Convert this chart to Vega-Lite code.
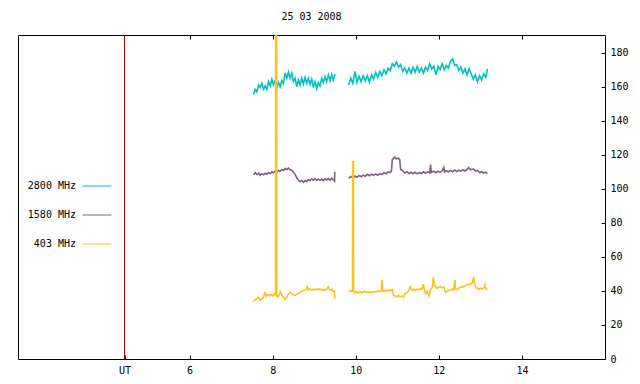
{
  "$schema": "https://vega.github.io/schema/vega-lite/v6.json",
  "width": 587,
  "height": 324,
  "autosize": {"type": "none"},
  "padding": {"left": 18, "top": 35, "right": 35, "bottom": 25},
  "background": "white",
  "config": {
    "view": {"stroke": "#000000", "strokeWidth": 1},
    "font": "DejaVu Sans Mono",
    "axis": {"labelFont": "DejaVu Sans Mono", "labelFontSize": 10, "labelColor": "#000000", "tickColor": "#000000", "grid": false, "domain": false, "title": null}
  },
  "title": {"text": "25 03 2008", "font": "DejaVu Sans Mono", "fontSize": 10, "fontWeight": "normal", "color": "#000000", "anchor": "middle", "offset": 13},
  "datasets": {
    "ut": [{"t": 4.434}],
    "radio": [
      {"s":"2800","g":1,"t":7.54,"v":155.5},{"s":"2800","g":1,"t":7.58,"v":158.5},{"s":"2800","g":1,"t":7.62,"v":157},{"s":"2800","g":1,"t":7.66,"v":161},{"s":"2800","g":1,"t":7.70,"v":159.5},{"s":"2800","g":1,"t":7.74,"v":162},{"s":"2800","g":1,"t":7.78,"v":158.5},{"s":"2800","g":1,"t":7.82,"v":160.5},{"s":"2800","g":1,"t":7.86,"v":158.5},{"s":"2800","g":1,"t":7.90,"v":163},{"s":"2800","g":1,"t":7.94,"v":160.5},{"s":"2800","g":1,"t":7.98,"v":164.5},{"s":"2800","g":1,"t":8.02,"v":161},{"s":"2800","g":1,"t":8.06,"v":163.5},{"s":"2800","g":1,"t":8.10,"v":159.5},{"s":"2800","g":1,"t":8.14,"v":162.5},{"s":"2800","g":1,"t":8.18,"v":160},{"s":"2800","g":1,"t":8.22,"v":163.5},{"s":"2800","g":1,"t":8.26,"v":162},{"s":"2800","g":1,"t":8.30,"v":168},{"s":"2800","g":1,"t":8.34,"v":165},{"s":"2800","g":1,"t":8.38,"v":168.5},{"s":"2800","g":1,"t":8.42,"v":165},{"s":"2800","g":1,"t":8.46,"v":168},{"s":"2800","g":1,"t":8.50,"v":163},{"s":"2800","g":1,"t":8.54,"v":165},{"s":"2800","g":1,"t":8.58,"v":160},{"s":"2800","g":1,"t":8.62,"v":164},{"s":"2800","g":1,"t":8.66,"v":161},{"s":"2800","g":1,"t":8.70,"v":165},{"s":"2800","g":1,"t":8.74,"v":161.5},{"s":"2800","g":1,"t":8.78,"v":165.5},{"s":"2800","g":1,"t":8.82,"v":162},{"s":"2800","g":1,"t":8.86,"v":165},{"s":"2800","g":1,"t":8.90,"v":161.5},{"s":"2800","g":1,"t":8.94,"v":164.5},{"s":"2800","g":1,"t":8.98,"v":159.5},{"s":"2800","g":1,"t":9.02,"v":163},{"s":"2800","g":1,"t":9.06,"v":159},{"s":"2800","g":1,"t":9.10,"v":162.5},{"s":"2800","g":1,"t":9.14,"v":160.5},{"s":"2800","g":1,"t":9.18,"v":165},{"s":"2800","g":1,"t":9.22,"v":162.5},{"s":"2800","g":1,"t":9.26,"v":166},{"s":"2800","g":1,"t":9.30,"v":163},{"s":"2800","g":1,"t":9.34,"v":167},{"s":"2800","g":1,"t":9.38,"v":163.5},{"s":"2800","g":1,"t":9.42,"v":167},{"s":"2800","g":1,"t":9.46,"v":164},{"s":"2800","g":1,"t":9.50,"v":167.5},
      {"s":"2800","g":2,"t":9.83,"v":161},{"s":"2800","g":2,"t":9.88,"v":165},{"s":"2800","g":2,"t":9.93,"v":162},{"s":"2800","g":2,"t":9.98,"v":169},{"s":"2800","g":2,"t":10.03,"v":162.5},{"s":"2800","g":2,"t":10.08,"v":166},{"s":"2800","g":2,"t":10.13,"v":163},{"s":"2800","g":2,"t":10.18,"v":166.5},{"s":"2800","g":2,"t":10.23,"v":163.5},{"s":"2800","g":2,"t":10.28,"v":166.5},{"s":"2800","g":2,"t":10.33,"v":162.7},{"s":"2800","g":2,"t":10.38,"v":167},{"s":"2800","g":2,"t":10.43,"v":164.5},{"s":"2800","g":2,"t":10.48,"v":168.5},{"s":"2800","g":2,"t":10.53,"v":165.5},{"s":"2800","g":2,"t":10.58,"v":169},{"s":"2800","g":2,"t":10.63,"v":166.5},{"s":"2800","g":2,"t":10.68,"v":170},{"s":"2800","g":2,"t":10.73,"v":167.5},{"s":"2800","g":2,"t":10.78,"v":171},{"s":"2800","g":2,"t":10.83,"v":169.5},{"s":"2800","g":2,"t":10.88,"v":173.5},{"s":"2800","g":2,"t":10.93,"v":172},{"s":"2800","g":2,"t":10.98,"v":174.5},{"s":"2800","g":2,"t":11.03,"v":171.5},{"s":"2800","g":2,"t":11.08,"v":173},{"s":"2800","g":2,"t":11.13,"v":169},{"s":"2800","g":2,"t":11.18,"v":171},{"s":"2800","g":2,"t":11.23,"v":168},{"s":"2800","g":2,"t":11.28,"v":171},{"s":"2800","g":2,"t":11.33,"v":168},{"s":"2800","g":2,"t":11.38,"v":171.5},{"s":"2800","g":2,"t":11.43,"v":168.5},{"s":"2800","g":2,"t":11.48,"v":172},{"s":"2800","g":2,"t":11.53,"v":168.5},{"s":"2800","g":2,"t":11.58,"v":171},{"s":"2800","g":2,"t":11.63,"v":168},{"s":"2800","g":2,"t":11.68,"v":171.5},{"s":"2800","g":2,"t":11.73,"v":169.5},{"s":"2800","g":2,"t":11.78,"v":173.5},{"s":"2800","g":2,"t":11.83,"v":170.5},{"s":"2800","g":2,"t":11.88,"v":172},{"s":"2800","g":2,"t":11.93,"v":167},{"s":"2800","g":2,"t":11.98,"v":172},{"s":"2800","g":2,"t":12.03,"v":170},{"s":"2800","g":2,"t":12.08,"v":173.5},{"s":"2800","g":2,"t":12.13,"v":170},{"s":"2800","g":2,"t":12.18,"v":172.5},{"s":"2800","g":2,"t":12.23,"v":171},{"s":"2800","g":2,"t":12.28,"v":175},{"s":"2800","g":2,"t":12.33,"v":176.3},{"s":"2800","g":2,"t":12.38,"v":172.5},{"s":"2800","g":2,"t":12.43,"v":173},{"s":"2800","g":2,"t":12.48,"v":169.5},{"s":"2800","g":2,"t":12.53,"v":171.5},{"s":"2800","g":2,"t":12.58,"v":168},{"s":"2800","g":2,"t":12.63,"v":170.5},{"s":"2800","g":2,"t":12.68,"v":167},{"s":"2800","g":2,"t":12.73,"v":170.5},{"s":"2800","g":2,"t":12.78,"v":167.5},{"s":"2800","g":2,"t":12.83,"v":164.5},{"s":"2800","g":2,"t":12.88,"v":167},{"s":"2800","g":2,"t":12.93,"v":163},{"s":"2800","g":2,"t":12.98,"v":166.5},{"s":"2800","g":2,"t":13.03,"v":164},{"s":"2800","g":2,"t":13.08,"v":167.5},{"s":"2800","g":2,"t":13.13,"v":165.5},{"s":"2800","g":2,"t":13.17,"v":170.5},
      {"s":"1580","g":3,"t":7.54,"v":108.2},{"s":"1580","g":3,"t":7.58,"v":109.5},{"s":"1580","g":3,"t":7.62,"v":108.4},{"s":"1580","g":3,"t":7.66,"v":109.2},{"s":"1580","g":3,"t":7.70,"v":108.0},{"s":"1580","g":3,"t":7.74,"v":108.9},{"s":"1580","g":3,"t":7.78,"v":108.3},{"s":"1580","g":3,"t":7.82,"v":109.0},{"s":"1580","g":3,"t":7.86,"v":108.6},{"s":"1580","g":3,"t":7.90,"v":109.6},{"s":"1580","g":3,"t":7.94,"v":109.0},{"s":"1580","g":3,"t":7.98,"v":110.0},{"s":"1580","g":3,"t":8.02,"v":109.4},{"s":"1580","g":3,"t":8.06,"v":110.5},{"s":"1580","g":3,"t":8.10,"v":109.8},{"s":"1580","g":3,"t":8.14,"v":110.8},{"s":"1580","g":3,"t":8.18,"v":110.3},{"s":"1580","g":3,"t":8.22,"v":111.3},{"s":"1580","g":3,"t":8.26,"v":110.8},{"s":"1580","g":3,"t":8.30,"v":112.0},{"s":"1580","g":3,"t":8.34,"v":111.3},{"s":"1580","g":3,"t":8.38,"v":112.2},{"s":"1580","g":3,"t":8.42,"v":111.2},{"s":"1580","g":3,"t":8.46,"v":111.0},{"s":"1580","g":3,"t":8.50,"v":109.8},{"s":"1580","g":3,"t":8.54,"v":108.5},{"s":"1580","g":3,"t":8.58,"v":106.5},{"s":"1580","g":3,"t":8.62,"v":105.0},{"s":"1580","g":3,"t":8.66,"v":104.2},{"s":"1580","g":3,"t":8.70,"v":105.0},{"s":"1580","g":3,"t":8.74,"v":103.8},{"s":"1580","g":3,"t":8.78,"v":104.9},{"s":"1580","g":3,"t":8.82,"v":104.3},{"s":"1580","g":3,"t":8.86,"v":105.4},{"s":"1580","g":3,"t":8.90,"v":104.8},{"s":"1580","g":3,"t":8.94,"v":105.9},{"s":"1580","g":3,"t":8.98,"v":105.1},{"s":"1580","g":3,"t":9.02,"v":106.0},{"s":"1580","g":3,"t":9.06,"v":105.0},{"s":"1580","g":3,"t":9.10,"v":105.8},{"s":"1580","g":3,"t":9.14,"v":104.9},{"s":"1580","g":3,"t":9.18,"v":105.7},{"s":"1580","g":3,"t":9.22,"v":104.8},{"s":"1580","g":3,"t":9.26,"v":105.9},{"s":"1580","g":3,"t":9.30,"v":105.2},{"s":"1580","g":3,"t":9.34,"v":106.0},{"s":"1580","g":3,"t":9.38,"v":105.0},{"s":"1580","g":3,"t":9.42,"v":106.2},{"s":"1580","g":3,"t":9.46,"v":105.3},{"s":"1580","g":3,"t":9.49,"v":104.5},{"s":"1580","g":3,"t":9.495,"v":110.0},
      {"s":"1580","g":4,"t":9.83,"v":106.2},{"s":"1580","g":4,"t":9.88,"v":107.3},{"s":"1580","g":4,"t":9.93,"v":106.4},{"s":"1580","g":4,"t":9.98,"v":107.5},{"s":"1580","g":4,"t":10.03,"v":106.8},{"s":"1580","g":4,"t":10.08,"v":107.9},{"s":"1580","g":4,"t":10.13,"v":107.1},{"s":"1580","g":4,"t":10.18,"v":108.0},{"s":"1580","g":4,"t":10.23,"v":107.4},{"s":"1580","g":4,"t":10.28,"v":108.5},{"s":"1580","g":4,"t":10.33,"v":107.7},{"s":"1580","g":4,"t":10.38,"v":108.6},{"s":"1580","g":4,"t":10.43,"v":107.9},{"s":"1580","g":4,"t":10.48,"v":108.8},{"s":"1580","g":4,"t":10.53,"v":108.0},{"s":"1580","g":4,"t":10.58,"v":108.9},{"s":"1580","g":4,"t":10.63,"v":108.4},{"s":"1580","g":4,"t":10.68,"v":109.5},{"s":"1580","g":4,"t":10.73,"v":108.9},{"s":"1580","g":4,"t":10.78,"v":110.0},{"s":"1580","g":4,"t":10.83,"v":109.6},{"s":"1580","g":4,"t":10.86,"v":110.5},{"s":"1580","g":4,"t":10.88,"v":117.0},{"s":"1580","g":4,"t":10.93,"v":118.6},{"s":"1580","g":4,"t":10.98,"v":117.6},{"s":"1580","g":4,"t":11.03,"v":118.0},{"s":"1580","g":4,"t":11.06,"v":117.0},{"s":"1580","g":4,"t":11.08,"v":111.5},{"s":"1580","g":4,"t":11.13,"v":110.6},{"s":"1580","g":4,"t":11.18,"v":109.3},{"s":"1580","g":4,"t":11.23,"v":110.0},{"s":"1580","g":4,"t":11.28,"v":109.0},{"s":"1580","g":4,"t":11.33,"v":109.8},{"s":"1580","g":4,"t":11.38,"v":108.9},{"s":"1580","g":4,"t":11.43,"v":109.7},{"s":"1580","g":4,"t":11.48,"v":108.8},{"s":"1580","g":4,"t":11.53,"v":109.6},{"s":"1580","g":4,"t":11.58,"v":109.0},{"s":"1580","g":4,"t":11.63,"v":110.0},{"s":"1580","g":4,"t":11.68,"v":109.2},{"s":"1580","g":4,"t":11.73,"v":110.0},{"s":"1580","g":4,"t":11.78,"v":109.3},{"s":"1580","g":4,"t":11.80,"v":114.3},{"s":"1580","g":4,"t":11.82,"v":109.6},{"s":"1580","g":4,"t":11.88,"v":110.4},{"s":"1580","g":4,"t":11.93,"v":109.5},{"s":"1580","g":4,"t":11.98,"v":110.4},{"s":"1580","g":4,"t":12.03,"v":109.7},{"s":"1580","g":4,"t":12.08,"v":110.6},{"s":"1580","g":4,"t":12.12,"v":112.5},{"s":"1580","g":4,"t":12.14,"v":109.9},{"s":"1580","g":4,"t":12.18,"v":110.7},{"s":"1580","g":4,"t":12.23,"v":109.9},{"s":"1580","g":4,"t":12.28,"v":110.8},{"s":"1580","g":4,"t":12.33,"v":110.0},{"s":"1580","g":4,"t":12.38,"v":111.0},{"s":"1580","g":4,"t":12.43,"v":110.2},{"s":"1580","g":4,"t":12.48,"v":111.0},{"s":"1580","g":4,"t":12.53,"v":110.3},{"s":"1580","g":4,"t":12.58,"v":111.2},{"s":"1580","g":4,"t":12.63,"v":110.5},{"s":"1580","g":4,"t":12.68,"v":111.4},{"s":"1580","g":4,"t":12.72,"v":112.5},{"s":"1580","g":4,"t":12.76,"v":111.2},{"s":"1580","g":4,"t":12.83,"v":111.6},{"s":"1580","g":4,"t":12.88,"v":110.5},{"s":"1580","g":4,"t":12.93,"v":110.8},{"s":"1580","g":4,"t":12.98,"v":109.6},{"s":"1580","g":4,"t":13.03,"v":110.1},{"s":"1580","g":4,"t":13.08,"v":109.2},{"s":"1580","g":4,"t":13.13,"v":109.8},{"s":"1580","g":4,"t":13.17,"v":109.0},
      {"s":"403","g":5,"t":7.54,"v":34.0},{"s":"403","g":5,"t":7.58,"v":34.8},{"s":"403","g":5,"t":7.62,"v":35.6},{"s":"403","g":5,"t":7.66,"v":36.2},{"s":"403","g":5,"t":7.70,"v":34.6},{"s":"403","g":5,"t":7.74,"v":35.2},{"s":"403","g":5,"t":7.78,"v":36.4},{"s":"403","g":5,"t":7.82,"v":39.5},{"s":"403","g":5,"t":7.84,"v":36.8},{"s":"403","g":5,"t":7.88,"v":37.8},{"s":"403","g":5,"t":7.92,"v":37.2},{"s":"403","g":5,"t":7.96,"v":38.0},{"s":"403","g":5,"t":8.00,"v":37.0},{"s":"403","g":5,"t":8.04,"v":38.2},{"s":"403","g":5,"t":8.07,"v":37.5},{"s":"403","g":5,"t":8.072,"v":210},{"s":"403","g":5,"t":8.095,"v":210},{"s":"403","g":5,"t":8.098,"v":37.0},{"s":"403","g":5,"t":8.12,"v":36.4},{"s":"403","g":5,"t":8.16,"v":37.8},{"s":"403","g":5,"t":8.19,"v":39.5},{"s":"403","g":5,"t":8.22,"v":37.6},{"s":"403","g":5,"t":8.26,"v":36.5},{"s":"403","g":5,"t":8.30,"v":35.0},{"s":"403","g":5,"t":8.34,"v":36.4},{"s":"403","g":5,"t":8.38,"v":38.2},{"s":"403","g":5,"t":8.42,"v":39.2},{"s":"403","g":5,"t":8.46,"v":38.4},{"s":"403","g":5,"t":8.50,"v":37.6},{"s":"403","g":5,"t":8.54,"v":37.4},{"s":"403","g":5,"t":8.58,"v":38.0},{"s":"403","g":5,"t":8.62,"v":38.6},{"s":"403","g":5,"t":8.66,"v":39.2},{"s":"403","g":5,"t":8.70,"v":39.8},{"s":"403","g":5,"t":8.74,"v":40.2},{"s":"403","g":5,"t":8.78,"v":40.6},{"s":"403","g":5,"t":8.82,"v":41.2},{"s":"403","g":5,"t":8.83,"v":43.0},{"s":"403","g":5,"t":8.86,"v":40.5},{"s":"403","g":5,"t":8.90,"v":41.2},{"s":"403","g":5,"t":8.94,"v":40.4},{"s":"403","g":5,"t":8.98,"v":41.0},{"s":"403","g":5,"t":9.02,"v":40.6},{"s":"403","g":5,"t":9.06,"v":41.2},{"s":"403","g":5,"t":9.10,"v":40.8},{"s":"403","g":5,"t":9.14,"v":41.2},{"s":"403","g":5,"t":9.18,"v":40.5},{"s":"403","g":5,"t":9.22,"v":40.9},{"s":"403","g":5,"t":9.26,"v":40.3},{"s":"403","g":5,"t":9.30,"v":41.0},{"s":"403","g":5,"t":9.34,"v":42.4},{"s":"403","g":5,"t":9.38,"v":40.6},{"s":"403","g":5,"t":9.42,"v":41.0},{"s":"403","g":5,"t":9.46,"v":39.8},{"s":"403","g":5,"t":9.49,"v":40.0},{"s":"403","g":5,"t":9.495,"v":35.5},
      {"s":"403","g":6,"t":9.83,"v":39.6},{"s":"403","g":6,"t":9.87,"v":40.3},{"s":"403","g":6,"t":9.90,"v":39.7},{"s":"403","g":6,"t":9.922,"v":40.0},{"s":"403","g":6,"t":9.925,"v":116},{"s":"403","g":6,"t":9.945,"v":116},{"s":"403","g":6,"t":9.948,"v":40.0},{"s":"403","g":6,"t":9.98,"v":39.0},{"s":"403","g":6,"t":10.02,"v":39.6},{"s":"403","g":6,"t":10.06,"v":38.8},{"s":"403","g":6,"t":10.10,"v":39.6},{"s":"403","g":6,"t":10.14,"v":38.9},{"s":"403","g":6,"t":10.18,"v":39.4},{"s":"403","g":6,"t":10.22,"v":39.8},{"s":"403","g":6,"t":10.26,"v":39.0},{"s":"403","g":6,"t":10.30,"v":39.6},{"s":"403","g":6,"t":10.34,"v":38.9},{"s":"403","g":6,"t":10.38,"v":39.4},{"s":"403","g":6,"t":10.42,"v":39.0},{"s":"403","g":6,"t":10.46,"v":39.8},{"s":"403","g":6,"t":10.50,"v":39.5},{"s":"403","g":6,"t":10.54,"v":40.2},{"s":"403","g":6,"t":10.58,"v":39.6},{"s":"403","g":6,"t":10.62,"v":40.0},{"s":"403","g":6,"t":10.636,"v":46.5},{"s":"403","g":6,"t":10.65,"v":40.2},{"s":"403","g":6,"t":10.69,"v":39.8},{"s":"403","g":6,"t":10.73,"v":40.4},{"s":"403","g":6,"t":10.77,"v":40.0},{"s":"403","g":6,"t":10.81,"v":40.6},{"s":"403","g":6,"t":10.85,"v":40.2},{"s":"403","g":6,"t":10.88,"v":40.8},{"s":"403","g":6,"t":10.91,"v":37.6},{"s":"403","g":6,"t":10.95,"v":37.0},{"s":"403","g":6,"t":10.99,"v":36.6},{"s":"403","g":6,"t":11.03,"v":37.4},{"s":"403","g":6,"t":11.07,"v":36.5},{"s":"403","g":6,"t":11.11,"v":37.0},{"s":"403","g":6,"t":11.15,"v":36.4},{"s":"403","g":6,"t":11.19,"v":38.6},{"s":"403","g":6,"t":11.23,"v":38.8},{"s":"403","g":6,"t":11.27,"v":40.0},{"s":"403","g":6,"t":11.31,"v":42.5},{"s":"403","g":6,"t":11.35,"v":40.5},{"s":"403","g":6,"t":11.39,"v":41.0},{"s":"403","g":6,"t":11.43,"v":40.2},{"s":"403","g":6,"t":11.47,"v":41.0},{"s":"403","g":6,"t":11.51,"v":40.6},{"s":"403","g":6,"t":11.55,"v":41.4},{"s":"403","g":6,"t":11.59,"v":41.0},{"s":"403","g":6,"t":11.63,"v":44.0},{"s":"403","g":6,"t":11.65,"v":40.8},{"s":"403","g":6,"t":11.68,"v":38.5},{"s":"403","g":6,"t":11.72,"v":39.8},{"s":"403","g":6,"t":11.76,"v":37.0},{"s":"403","g":6,"t":11.80,"v":40.6},{"s":"403","g":6,"t":11.84,"v":42.0},{"s":"403","g":6,"t":11.87,"v":48.0},{"s":"403","g":6,"t":11.89,"v":43.5},{"s":"403","g":6,"t":11.92,"v":42.5},{"s":"403","g":6,"t":11.96,"v":41.5},{"s":"403","g":6,"t":12.00,"v":42.2},{"s":"403","g":6,"t":12.04,"v":42.5},{"s":"403","g":6,"t":12.08,"v":41.8},{"s":"403","g":6,"t":12.12,"v":42.3},{"s":"403","g":6,"t":12.16,"v":39.2},{"s":"403","g":6,"t":12.20,"v":39.8},{"s":"403","g":6,"t":12.24,"v":40.4},{"s":"403","g":6,"t":12.28,"v":40.6},{"s":"403","g":6,"t":12.32,"v":41.0},{"s":"403","g":6,"t":12.36,"v":40.6},{"s":"403","g":6,"t":12.386,"v":46.5},{"s":"403","g":6,"t":12.40,"v":41.2},{"s":"403","g":6,"t":12.44,"v":40.8},{"s":"403","g":6,"t":12.48,"v":41.6},{"s":"403","g":6,"t":12.52,"v":42.0},{"s":"403","g":6,"t":12.56,"v":42.6},{"s":"403","g":6,"t":12.60,"v":42.4},{"s":"403","g":6,"t":12.64,"v":43.2},{"s":"403","g":6,"t":12.68,"v":43.6},{"s":"403","g":6,"t":12.72,"v":44.0},{"s":"403","g":6,"t":12.76,"v":43.8},{"s":"403","g":6,"t":12.80,"v":44.6},{"s":"403","g":6,"t":12.843,"v":48.0},{"s":"403","g":6,"t":12.86,"v":44.0},{"s":"403","g":6,"t":12.89,"v":42.0},{"s":"403","g":6,"t":12.93,"v":41.4},{"s":"403","g":6,"t":12.97,"v":41.0},{"s":"403","g":6,"t":13.01,"v":41.6},{"s":"403","g":6,"t":13.05,"v":41.2},{"s":"403","g":6,"t":13.09,"v":42.0},{"s":"403","g":6,"t":13.11,"v":43.5},{"s":"403","g":6,"t":13.13,"v":41.2},{"s":"403","g":6,"t":13.17,"v":41.0}
    ]
  },
  "resolve": {"axis": {"x": "independent"}},
  "layer": [
    {
      "data": {"name": "ut"},
      "mark": {"type": "rule", "color": "#a00000", "strokeWidth": 1},
      "encoding": {
        "x": {"field": "t", "type": "quantitative", "scale": {"domain": [1.87, 16.0], "nice": false, "zero": false},
              "axis": {"orient": "top", "values": [6, 8, 10, 12, 14], "labels": false, "tickSize": -4, "ticks": true}}
      }
    },
    {
      "data": {"name": "radio"},
      "mark": {"type": "line", "strokeWidth": 1.6, "clip": true, "interpolate": "linear"},
      "encoding": {
        "x": {"field": "t", "type": "quantitative", "scale": {"domain": [1.87, 16.0], "nice": false, "zero": false},
              "axis": {"orient": "bottom", "values": [4.434, 6, 8, 10, 12, 14], "format": "d", "labelExpr": "datum.value < 5 ? 'UT' : datum.label", "tickSize": -4, "labelPadding": 10}},
        "y": {"field": "v", "type": "quantitative", "scale": {"domain": [0, 190.4], "nice": false},
              "axis": {"orient": "right", "values": [0, 20, 40, 60, 80, 100, 120, 140, 160, 180], "tickSize": -4, "labelPadding": 9, "labelAlign": "left"}},
        "color": {"field": "s", "type": "nominal",
                  "scale": {"domain": ["2800", "1580", "403"], "range": ["#00c0c0", "#806080", "#ffc020"]},
                  "legend": {"orient": "none", "legendX": 64, "legendY": 136, "title": null, "symbolType": "stroke", "symbolSize": 841, "symbolStrokeWidth": 1, "labelAlign": "right", "labelOffset": -36, "labelFont": "DejaVu Sans Mono", "labelFontSize": 10, "labelColor": "#000000", "rowPadding": 9, "labelExpr": "datum.label + ' MHz'"}},
        "detail": {"field": "g", "type": "nominal"}
      }
    }
  ]
}
